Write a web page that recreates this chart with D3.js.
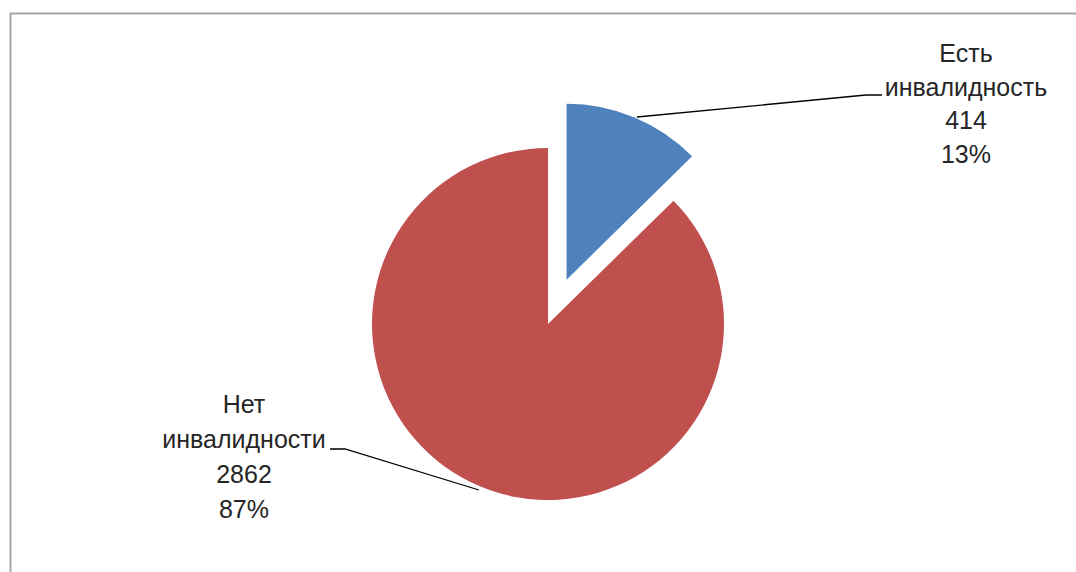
<!DOCTYPE html>
<html>
<head>
<meta charset="utf-8">
<script src="https://cdn.jsdelivr.net/npm/d3@7"></script>
<style>
  body { margin: 0; background: #fff; }
  text { font-family: "Liberation Sans Narrow", "Arial Narrow", "Liberation Sans", Arial, sans-serif; fill: #262626; }
</style>
</head>
<body>
<svg id="chart"></svg>
<script>
var width = 1076;
var height = 572;

// data
var categories = ["Есть инвалидность", "Нет инвалидности"];
var values = [414, 2862];
var labelLines = [["Есть", "инвалидность"], ["Нет", "инвалидности"]];
var colors = ["#4f81bd", "#c0504d"];

var cx = 548, cy = 324, radius = 176;
var explode = [48, 0]; // blue slice pulled out

var svg = d3.select('#chart')
  .attr('width', width)
  .attr('height', height);

// frame (only top and left visible)
svg.append('path')
  .attr('d', 'M10.5,' + height + ' V13.5 H' + width)
  .attr('fill', 'none')
  .attr('stroke', '#a6a6a6')
  .attr('stroke-width', 2);

var total = d3.sum(values);
var data = categories.map((c, i) => ({ name: c, value: values[i], i: i }));

var pie = d3.pie().sort(null).value(d => d.value);
var arc = d3.arc().innerRadius(0).outerRadius(radius);
var arcs = pie(data);

var g = svg.append('g').attr('transform', 'translate(' + cx + ',' + cy + ')');

function offset(d) {
  var mid = (d.startAngle + d.endAngle) / 2;
  var e = explode[d.data.i];
  return [Math.sin(mid) * e, -Math.cos(mid) * e];
}

g.selectAll('path.slice')
  .data(arcs)
  .join('path')
    .attr('class', 'slice')
    .attr('d', arc)
    .attr('transform', d => 'translate(' + offset(d) + ')')
    .attr('fill', d => colors[d.data.i]);

// label positions (center x, first baseline y, line step) and leader lines
var labelPos = [[966, 62, 33.5], [244, 413, 35]];
var leaderEnds = [[[637, 117], [866, 95], [882, 95]], [[479, 490], [345, 449], [330, 449]]];

var line = d3.line();
svg.selectAll('path.leader')
  .data(leaderEnds)
  .join('path')
    .attr('class', 'leader')
    .attr('d', line)
    .attr('fill', 'none')
    .attr('stroke', '#000')
    .attr('stroke-width', 1.3);

arcs.forEach(function(d) {
  var i = d.data.i;
  var lines = labelLines[i].concat([String(d.data.value), Math.round(d.data.value / total * 100) + '%']);
  var t = svg.append('text')
    .attr('text-anchor', 'middle')
    .style('font-size', '25px');
  lines.forEach(function(s, k) {
    t.append('tspan')
      .attr('x', labelPos[i][0])
      .attr('y', labelPos[i][1] + k * labelPos[i][2])
      .text(s);
  });
});
</script>
</body>
</html>
